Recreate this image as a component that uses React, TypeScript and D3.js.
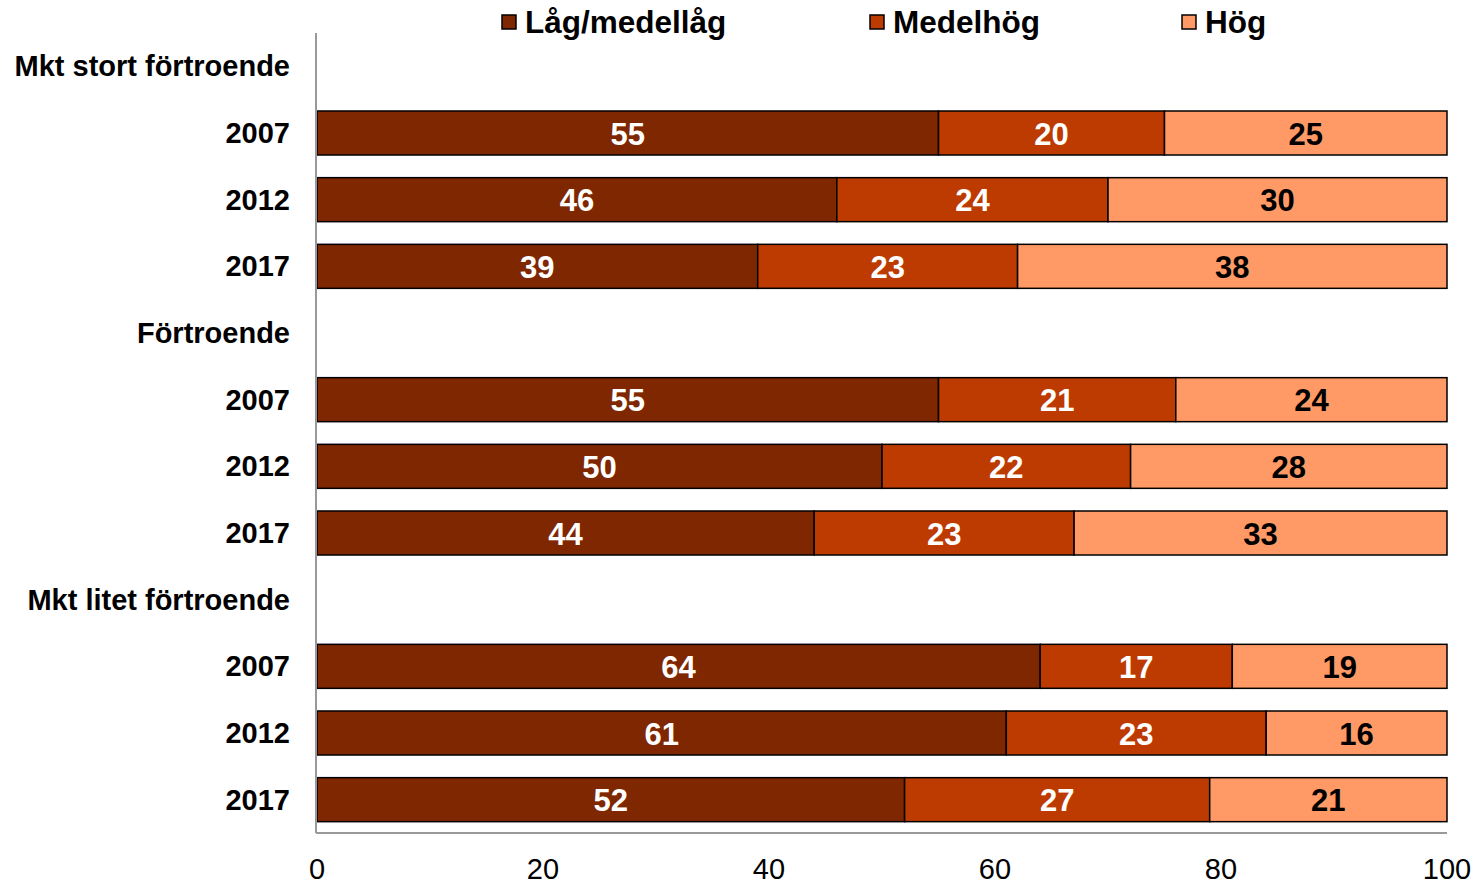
import React from "react";
import * as d3 from "d3";

const rows = [
  "Mkt stort förtroende", "2007", "2012", "2017",
  "Förtroende", "2007", "2012", "2017",
  "Mkt litet förtroende", "2007", "2012", "2017",
];
const isHeader = [true, false, false, false, true, false, false, false, true, false, false, false];
const seriesNames = ["Låg/medellåg", "Medelhög", "Hög"];
const lowValues = [null, 55, 46, 39, null, 55, 50, 44, null, 64, 61, 52];
const midValues = [null, 20, 24, 23, null, 21, 22, 23, null, 17, 23, 27];
const highValues = [null, 25, 30, 38, null, 24, 28, 33, null, 19, 16, 21];
const colors = ["#7F2700", "#BD3A00", "#FF9966"];
const labelColors = ["#ffffff", "#ffffff", "#000000"];
const xTicks = [0, 20, 40, 60, 80, 100];

const W = 1479, H = 886;
const left = 317, right = 1447, top = 33, bottom = 833;
const FONT = "'Liberation Sans', Arial, sans-serif";

export default function App() {
  const x = d3.scaleLinear().domain([0, 100]).range([left, right]);
  const y = d3.scaleBand<number>().domain(d3.range(rows.length)).range([top, bottom]).paddingInner(0.34).paddingOuter(0.17);
  const series = [lowValues, midValues, highValues];
  const legendX = [502, 870, 1182];

  return (
    <svg width={W} height={H} style={{ position: "absolute", left: 0, top: 0, fontFamily: FONT }}>
      <rect width={W} height={H} fill="#fff" />
      {rows.map((r, i) => {
        const cy = (y(i) as number) + y.bandwidth() / 2;
        const vals = series.map((s) => s[i]);
        let acc = 0;
        return (
          <g key={i}>
            <text x={290} y={cy} textAnchor="end" dominantBaseline="central" fontSize={29} fontWeight="bold" fill="#000">{r}</text>
            {!isHeader[i] && vals.map((v, k) => {
              const x0 = x(acc);
              acc += v as number;
              const x1 = x(acc);
              return (
                <g key={k}>
                  <rect x={x0} y={y(i)} width={x1 - x0} height={y.bandwidth()} fill={colors[k]} stroke="#000" strokeWidth={1.5} />
                  <text x={(x0 + x1) / 2} y={cy + 1} textAnchor="middle" dominantBaseline="central" fontSize={31} fontWeight="bold" fill={labelColors[k]}>{v}</text>
                </g>
              );
            })}
          </g>
        );
      })}
      <line x1={316} x2={316} y1={top} y2={bottom} stroke="#999" strokeWidth={2} />
      <line x1={316} x2={right} y1={bottom} y2={bottom} stroke="#999" strokeWidth={2} />
      {xTicks.map((t) => (
        <text key={t} x={x(t)} y={879} textAnchor="middle" fontSize={29} fill="#000">{t}</text>
      ))}
      {seriesNames.map((n, k) => (
        <g key={n}>
          <rect x={legendX[k]} y={15} width={14} height={14} fill={colors[k]} stroke="#000" strokeWidth={1.5} />
          <text x={legendX[k] + 23} y={22} dominantBaseline="central" fontSize={31.5} fontWeight="bold" fill="#000">{n}</text>
        </g>
      ))}
    </svg>
  );
}
